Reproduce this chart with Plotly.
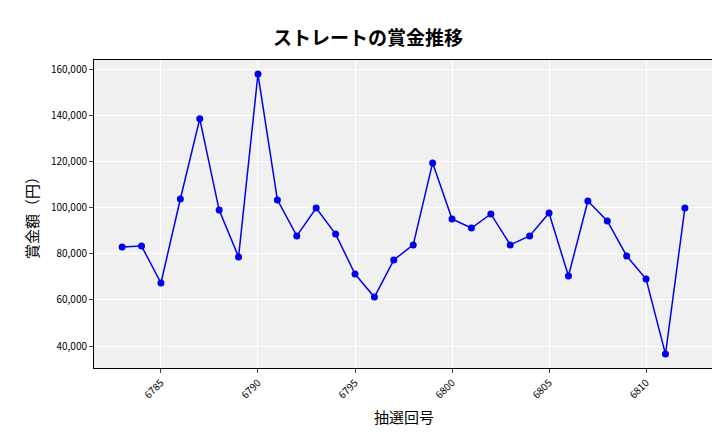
import plotly.graph_objects as go

draws = list(range(6783, 6813))
prizes = [82900, 83300, 67300, 103700, 138400, 98900, 78600, 157800, 103300, 87700,
          99800, 88500, 71200, 61200, 77300, 83800, 119300, 95000, 91100, 97200,
          83800, 87700, 97600, 70300, 102800, 94200, 79000, 69000, 36500, 99800]
xticks = [6785, 6790, 6795, 6800, 6805, 6810]
yticks = [40000, 60000, 80000, 100000, 120000, 140000, 160000]

F = "Noto Sans CJK JP"
fig = go.Figure(go.Scatter(x=draws, y=prizes, mode="lines+markers",
                           line=dict(color="#0000ee", width=1.5),
                           marker=dict(color="#0000ee", size=7)))
fig.update_layout(
    width=720, height=432, margin=dict(l=86, r=14, t=52, b=72, autoexpand=False),
    paper_bgcolor="white", plot_bgcolor="#f0f0f0", showlegend=False,
    title=dict(text="<b>ストレートの賞金推移</b>", x=0.5, y=0.945, xanchor="center",
               font=dict(family=F, size=19, color="black")),
    font=dict(family=F, color="black"),
)
fig.update_xaxes(range=[6781.55, 6813.5], tickvals=xticks, tickangle=-45,
                 tickfont=dict(size=10), gridcolor="white", showline=True,
                 linecolor="black", mirror=True, ticks="outside", ticklen=4,
                 automargin=False,
                 title=dict(text="抽選回号", font=dict(size=15), standoff=12), zeroline=False)
fig.update_yaxes(range=[30470, 163900], tickvals=yticks, tickformat=",",
                 tickfont=dict(size=10), gridcolor="white", showline=True,
                 linecolor="black", mirror=True, ticks="outside", ticklen=4,
                 automargin=False,
                 title=dict(text="賞金額（円）", font=dict(size=15), standoff=8), zeroline=False)
fig.write_html("out.html")
